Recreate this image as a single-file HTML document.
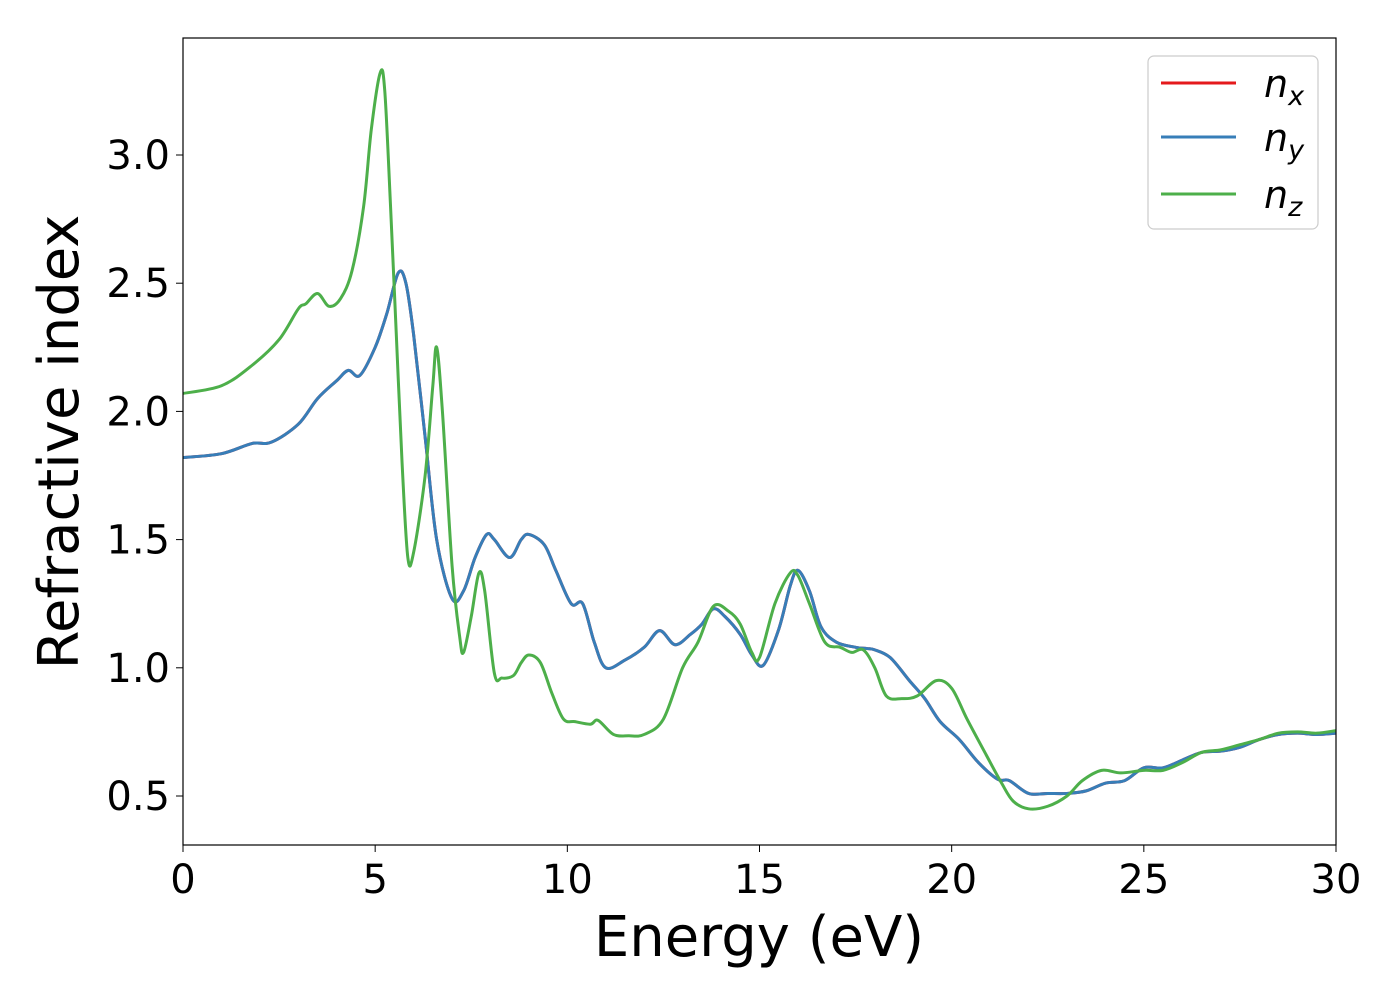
<!DOCTYPE html>
<html><head><meta charset="utf-8"><style>
body{margin:0;background:#fff;}
svg text{font-family:"DejaVu Sans","Liberation Sans",sans-serif;fill:#000;}
</style></head><body>
<svg width="1400" height="1000">
<rect width="1400" height="1000" fill="#fff"/>
<g id="series"></g>
<rect x="183" y="38" width="1153" height="807" fill="none" stroke="#000" stroke-width="1.2"/>
<g id="xticks"></g>
<g id="yticks"></g>
<text x="759" y="956" font-size="56" text-anchor="middle">Energy (eV)</text>
<text transform="translate(78,442) rotate(-90)" font-size="56" text-anchor="middle">Refractive index</text>
<g>
<rect x="1148" y="56" width="170" height="173" rx="6" fill="#fff" fill-opacity="0.8" stroke="#ccc" stroke-width="1.2"/>
<g><line x1="1161" y1="83" x2="1236" y2="83" stroke="#e41a1c" stroke-width="3"/><text x="1264" y="97" font-size="38" font-style="italic">n<tspan font-size="27" dy="8">x</tspan></text></g>
<g><line x1="1161" y1="137" x2="1236" y2="137" stroke="#377eb8" stroke-width="3"/><text x="1264" y="151" font-size="38" font-style="italic">n<tspan font-size="27" dy="8">y</tspan></text></g>
<g><line x1="1161" y1="194" x2="1236" y2="194" stroke="#4daf4a" stroke-width="3"/><text x="1264" y="208" font-size="38" font-style="italic">n<tspan font-size="27" dy="8">z</tspan></text></g>
</g>
</svg>
<script>
const xTicks=[0,5,10,15,20,25,30];
const yTicks=[0.5,1.0,1.5,2.0,2.5,3.0];
const energyXY=[0,1,1.8,2.3,3,3.5,4,4.3,4.6,5,5.3,5.6,5.8,6.0,6.3,6.6,7.0,7.3,7.6,7.9,8.1,8.5,8.8,9.0,9.4,9.7,10.1,10.4,10.7,11.0,11.5,12.0,12.4,12.8,13.2,13.5,13.8,14.1,14.5,14.8,15.1,15.5,15.8,16.0,16.3,16.6,17.0,17.5,17.8,18.0,18.4,18.9,19.3,19.7,20.2,20.7,21.2,21.5,22.0,22.5,23.0,23.5,24.0,24.5,25.0,25.5,26.0,26.5,27.0,27.5,28,28.5,29,29.5,30];
const nxValues=[1.82,1.835,1.875,1.88,1.95,2.05,2.12,2.16,2.14,2.25,2.38,2.54,2.5,2.3,1.9,1.5,1.27,1.3,1.43,1.52,1.5,1.43,1.5,1.52,1.48,1.38,1.25,1.25,1.1,1.0,1.03,1.08,1.145,1.09,1.13,1.17,1.23,1.2,1.13,1.05,1.01,1.15,1.32,1.38,1.3,1.16,1.1,1.08,1.075,1.07,1.04,0.95,0.88,0.79,0.72,0.63,0.565,0.56,0.51,0.51,0.51,0.52,0.55,0.56,0.61,0.61,0.64,0.67,0.675,0.69,0.72,0.74,0.745,0.74,0.745];
const nyValues=nxValues.slice();
const energyZ=[0,1,1.8,2.5,3.0,3.2,3.5,3.8,4.1,4.4,4.7,4.9,5.13,5.25,5.4,5.55,5.7,5.85,6.0,6.3,6.5,6.6,6.75,7.0,7.2,7.3,7.5,7.7,7.85,8.1,8.3,8.6,8.8,9.0,9.3,9.6,9.9,10.2,10.6,10.8,11.2,11.6,12.0,12.5,13.0,13.4,13.8,14.2,14.5,14.8,15.0,15.4,15.8,16.0,16.3,16.7,17.1,17.4,17.7,18.0,18.3,18.7,19.1,19.6,20.0,20.4,20.9,21.3,21.6,22.0,22.5,23.0,23.4,23.9,24.4,25.0,25.5,26.0,26.5,27.0,27.5,28,28.5,29,29.5,30];
const nzValues=[2.07,2.1,2.18,2.28,2.4,2.42,2.46,2.41,2.44,2.55,2.8,3.1,3.32,3.25,2.8,2.3,1.8,1.43,1.45,1.75,2.1,2.25,2.0,1.4,1.12,1.06,1.2,1.37,1.3,0.98,0.96,0.97,1.02,1.05,1.02,0.9,0.8,0.79,0.78,0.795,0.74,0.735,0.74,0.8,1.0,1.1,1.24,1.22,1.17,1.06,1.04,1.25,1.37,1.36,1.25,1.1,1.08,1.06,1.07,1.0,0.89,0.88,0.89,0.95,0.92,0.8,0.66,0.55,0.48,0.45,0.46,0.5,0.56,0.6,0.59,0.6,0.6,0.63,0.67,0.68,0.7,0.72,0.745,0.75,0.745,0.755];

const NS="http://www.w3.org/2000/svg";
const X=v=>183+(v-0)*(1153/30);
const Y=v=>155-(v-3.0)*(641/2.5);
function smooth(xs,ys){
  const p=xs.map((x,i)=>[X(x),Y(ys[i])]);
  let d="M"+p[0][0].toFixed(2)+","+p[0][1].toFixed(2);
  for(let i=0;i<p.length-1;i++){
    const p0=p[Math.max(0,i-1)],p1=p[i],p2=p[i+1],p3=p[Math.min(p.length-1,i+2)];
    const c1=[p1[0]+(p2[0]-p0[0])/6,p1[1]+(p2[1]-p0[1])/6];
    const c2=[p2[0]-(p3[0]-p1[0])/6,p2[1]-(p3[1]-p1[1])/6];
    d+=" C"+c1.map(v=>v.toFixed(2))+" "+c2.map(v=>v.toFixed(2))+" "+p2.map(v=>v.toFixed(2));
  }
  return d;
}
const g=document.getElementById("series");
[[energyXY,nxValues,"#e41a1c","series-nx"],[energyXY,nyValues,"#377eb8","series-ny"],[energyZ,nzValues,"#4daf4a","series-nz"]].forEach(s=>{
  const path=document.createElementNS(NS,"path");
  path.setAttribute("d",smooth(s[0],s[1]));
  path.setAttribute("fill","none");
  path.setAttribute("stroke",s[2]);
  path.setAttribute("stroke-width","3");
  path.setAttribute("stroke-linejoin","round");
  
  
  g.appendChild(path);
});
const xt=document.getElementById("xticks");
xTicks.forEach(v=>{
  const l=document.createElementNS(NS,"line");
  l.setAttribute("x1",X(v));l.setAttribute("x2",X(v));l.setAttribute("y1",845);l.setAttribute("y2",852);l.setAttribute("stroke","#000");
  
  
  xt.appendChild(l);
  const t=document.createElementNS(NS,"text");
  t.setAttribute("x",X(v));t.setAttribute("y",893);t.setAttribute("font-size","40");t.setAttribute("text-anchor","middle");
  t.textContent=v;
  
  
  xt.appendChild(t);
});
const yt=document.getElementById("yticks");
yTicks.forEach(v=>{
  const l=document.createElementNS(NS,"line");
  l.setAttribute("x1",176);l.setAttribute("x2",183);l.setAttribute("y1",Y(v));l.setAttribute("y2",Y(v));l.setAttribute("stroke","#000");
  
  
  yt.appendChild(l);
  const t=document.createElementNS(NS,"text");
  t.setAttribute("x",170);t.setAttribute("y",Y(v)+14);t.setAttribute("font-size","40");t.setAttribute("text-anchor","end");
  t.textContent=v.toFixed(1);
  
  
  yt.appendChild(t);
});
</script>
</body></html>
